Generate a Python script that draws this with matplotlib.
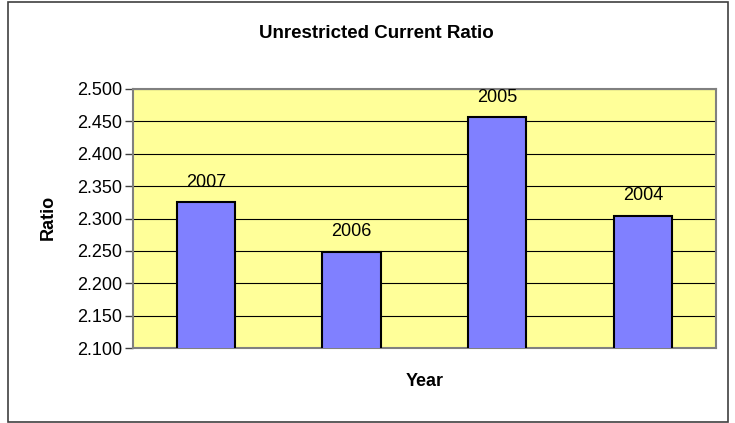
import matplotlib
matplotlib.use("Agg")
import matplotlib.pyplot as plt
from matplotlib.patches import Rectangle

plt.rcParams['font.family'] = ['Liberation Sans', 'DejaVu Sans']

# Datos
years = ["2007", "2006", "2005", "2004"]
ratios = [2.325, 2.249, 2.456, 2.304]
yticks = [2.100, 2.150, 2.200, 2.250, 2.300, 2.350, 2.400, 2.450, 2.500]

fig = plt.figure(figsize=(7.35, 4.23), dpi=100)
ax = fig.add_axes([0.181, 0.1773, 0.793, 0.6123])

# Fondo y barras
ax.set_facecolor("#FFFF99")
x = range(len(years))
bars = ax.bar(x, ratios, width=0.4, color="#8080FF", edgecolor="black",
              linewidth=1.5, zorder=3)

# Etiquetas sobre las barras
for xi, v, lab in zip(x, ratios, years):
    ax.annotate(lab, (xi, v), xytext=(0, 14.4), textcoords="offset points",
                ha="center", va="center", fontsize=13, zorder=4)

ax.set_xlim(-0.5, len(years) - 0.5)
ax.set_ylim(2.1, 2.5)
ax.set_yticks(yticks)
ax.set_yticklabels([f"{t:.3f}" for t in yticks], fontsize=13)
ax.set_xticks([])
ax.yaxis.grid(True, color="black", linewidth=0.8, zorder=0)
ax.set_axisbelow(True)
ax.tick_params(axis="y", length=6, width=1, color="#404040", pad=2)

for s in ax.spines.values():
    s.set_color("#808080")
    s.set_linewidth(1.5)

fig.text(0.5115, 0.92, "Unrestricted Current Ratio", ha="center", va="center",
         fontsize=13.5, fontweight="bold")
fig.text(0.578, 0.097, "Year", ha="center", va="center", fontsize=13,
         fontweight="bold")
fig.text(0.065, 0.485, "Ratio", ha="center", va="center", fontsize=13,
         fontweight="bold", rotation=90)

# Borde exterior del gráfico
fig.patches.append(Rectangle((8 / 735, 1.5 / 423), 720 / 735, 419.5 / 423,
                             transform=fig.transFigure, fill=False,
                             edgecolor="#404040", linewidth=1.2))

fig.savefig("out.png", dpi=100)
